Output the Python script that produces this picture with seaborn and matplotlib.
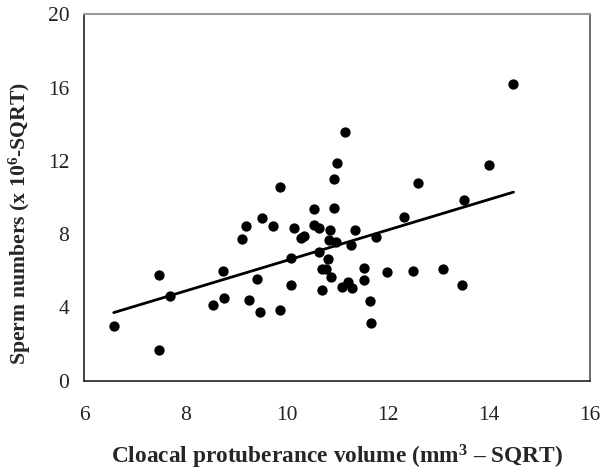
import matplotlib
matplotlib.use("Agg")
import matplotlib.pyplot as plt
import seaborn as sns
import pandas as pd

# Cloacal protuberance volume (sqrt) vs sperm numbers (sqrt)
cp_volume = [6.58, 7.48, 7.48, 7.70, 8.75, 8.55, 8.77, 9.12, 9.19, 9.42,
             9.25, 9.47, 9.52, 9.74, 9.87, 9.87, 10.08, 10.08, 10.14, 10.28,
             10.35, 10.54, 10.54, 10.65, 10.64, 10.82, 10.71, 10.78, 10.88, 10.71,
             10.86, 10.84, 10.97, 10.94, 10.94, 10.99, 11.16, 11.10, 11.36, 11.28,
             11.77, 11.22, 11.30, 11.53, 11.53, 11.66, 11.68, 11.99, 12.33, 12.60,
             12.50, 13.10, 13.48, 13.52, 14.00, 14.49]
sperm = [2.97, 5.79, 1.68, 4.64, 6.01, 4.15, 4.50, 7.72, 8.42, 5.54,
         4.43, 3.73, 8.89, 8.47, 10.55, 3.86, 6.69, 5.23, 8.33, 7.80,
         7.88, 9.37, 8.51, 8.33, 7.03, 6.63, 6.08, 6.12, 5.65, 4.93,
         8.21, 7.70, 7.58, 9.45, 11.02, 11.86, 13.57, 5.12, 8.20, 7.38,
         7.83, 5.40, 5.06, 6.13, 5.51, 4.37, 3.13, 5.93, 8.96, 10.77,
         6.01, 6.08, 5.25, 9.84, 11.78, 16.17]

x_ticks = [6, 8, 10, 12, 14, 16]
y_ticks = [0, 4, 8, 12, 16, 20]

df = pd.DataFrame({"cp": cp_volume, "sperm": sperm})

sns.set_style("white")
plt.rcParams["font.family"] = ["Liberation Serif", "DejaVu Serif"]
plt.rcParams["mathtext.fontset"] = "custom"
plt.rcParams["mathtext.rm"] = "Liberation Serif"
plt.rcParams["mathtext.bf"] = "Liberation Serif:bold"
plt.rcParams["mathtext.default"] = "bf"

fig = plt.figure(figsize=(6.03, 4.73), dpi=100)
ax = fig.add_axes([0.140, 0.195, 0.838, 0.775])

sns.regplot(data=df, x="cp", y="sperm", ci=None, ax=ax,
            scatter_kws={"s": 55, "color": "black", "alpha": 1, "linewidths": 0},
            line_kws={"color": "black", "linewidth": 2})

ax.set_xlim(6, 16)
ax.set_ylim(0, 20)
ax.set_xticks(x_ticks)
ax.set_yticks(y_ticks)
ax.tick_params(axis="both", direction="out", length=5, width=1, labelsize=15.5,
               colors="#222222")
ax.tick_params(axis="x", pad=13)
ax.tick_params(axis="y", pad=6)

for side in ["left", "bottom"]:
    ax.spines[side].set_color("#222222")
    ax.spines[side].set_linewidth(1.2)
ax.spines["top"].set_color("#999999")
ax.spines["top"].set_linewidth(1.5)
ax.spines["right"].set_color("#555555")
ax.spines["right"].set_linewidth(1.2)

ax.set_xlabel("Cloacal protuberance volume (mm$^{3}$ – SQRT)", fontsize=16.8,
              fontweight="bold")
ax.set_ylabel("Sperm numbers (x 10$^{6}$-SQRT)", fontsize=15.7,
              fontweight="bold")
ax.xaxis.set_label_coords(0.5, -0.17)
ax.yaxis.set_label_coords(-0.102, 0.43)

fig.savefig("out.png", dpi=100)
